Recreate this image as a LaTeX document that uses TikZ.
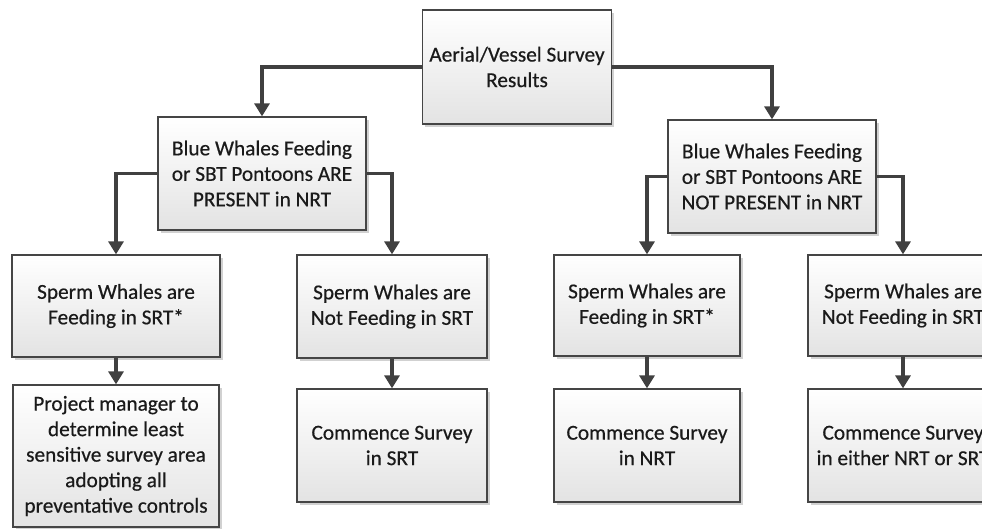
\documentclass[tikz,border=0pt]{standalone}
\usepackage{fontspec}
\setmainfont{Carlito}
\newfontface\boxfont{Carlito}[FakeBold=0.5]
\usetikzlibrary{arrows.meta,shadows}
\definecolor{boxline}{HTML}{454545}
\definecolor{arrline}{HTML}{404040}
\definecolor{boxtext}{HTML}{1a1a1a}
\tikzset{
  box/.style={draw=boxline, line width=1.3pt, top color=white, bottom color=black!11,
    align=center, inner sep=2pt, text=boxtext, font=\boxfont\fontsize{21.3}{25.5}\selectfont,
    drop shadow={shadow xshift=2.5pt, shadow yshift=-2.5pt, fill=black, opacity=0.18}},
  arr/.style={draw=arrline, line width=3.2pt, -{Triangle[width=15pt,length=13pt]}}
}
\begin{document}
\begin{tikzpicture}[x=1pt,y=-1pt]
\useasboundingbox (0,0) rectangle (982,528);
\clip (0,0) rectangle (982,528);
% top
\node[box, minimum width=189pt, minimum height=114pt] (top) at (517,67) {Aerial/Vessel Survey\\Results};
% level 2
\node[box, minimum width=208pt, minimum height=113pt] (b1) at (262,173.5) {Blue Whales Feeding\\or SBT Pontoons ARE\\PRESENT in NRT};
\node[box, minimum width=208pt, minimum height=113pt] (b2) at (772,176.5) {Blue Whales Feeding\\or SBT Pontoons ARE\\NOT PRESENT in NRT};
% level 3
\node[box, minimum width=208pt, minimum height=102pt] (c1) at (116,306) {Sperm Whales are\\Feeding in SRT*};
\node[box, minimum width=190pt, minimum height=103pt] (c2) at (392,306.5) {Sperm Whales are\\Not Feeding in SRT};
\node[box, minimum width=186pt, minimum height=101pt] (c3) at (647,305.5) {Sperm Whales are\\Feeding in SRT*};
\node[box, minimum width=190pt, minimum height=101pt] (c4) at (903,305.5) {Sperm Whales are\\Not Feeding in SRT};
% level 4
\node[box, minimum width=206pt, minimum height=142pt] (d1) at (116,456) {Project manager to\\determine least\\sensitive survey area\\adopting all\\preventative controls};
\node[box, minimum width=190pt, minimum height=113pt] (d2) at (392,445.5) {Commence Survey\\in SRT};
\node[box, minimum width=186pt, minimum height=113pt] (d3) at (647,445.5) {Commence Survey\\in NRT};
\node[box, minimum width=190pt, minimum height=113pt] (d4) at (903,445.5) {Commence Survey\\in either NRT or SRT};
% connectors
\draw[arr] (top.west) -| (b1.north);
\draw[arr] (top.east) -| (b2.north);
\draw[arr] (b1.west) -| (c1.north);
\draw[arr] (b1.east) -| (c2.north);
\draw[arr] (b2.west) -| (c3.north);
\draw[arr] (b2.east) -| (c4.north);
\draw[arr] (c1.south) -- (d1.north);
\draw[arr] (c2.south) -- (d2.north);
\draw[arr] (c3.south) -- (d3.north);
\draw[arr] (c4.south) -- (d4.north);
\end{tikzpicture}
\end{document}
